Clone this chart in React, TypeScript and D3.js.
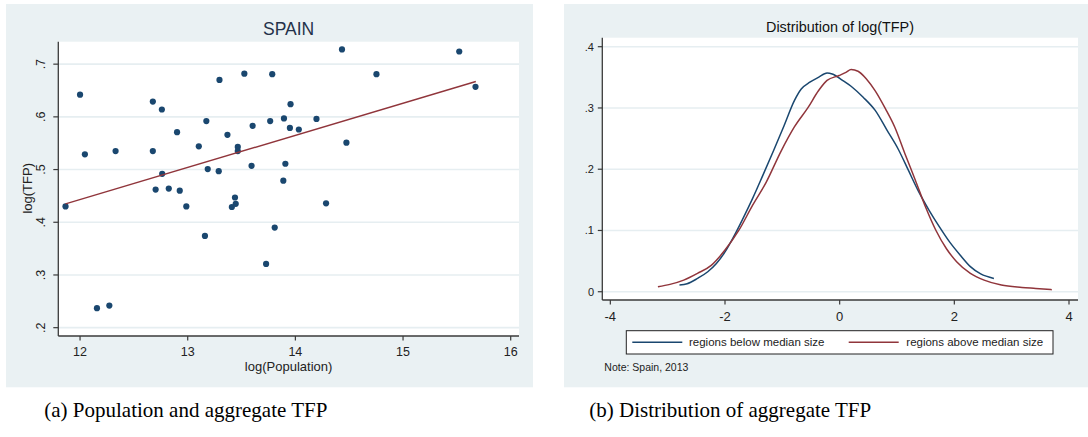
import React from "react";
import * as d3 from "d3";

// ---------- data: panel (a) ----------
const popLog: number[] = [
  11.865, 12.0, 12.045, 12.157, 12.272, 12.33, 12.676, 12.676, 12.76, 12.763,
  12.702, 12.824, 12.901, 12.926, 12.987, 13.103, 13.16, 13.173, 13.186, 13.288,
  13.295, 13.369, 13.41, 13.439, 13.446, 13.465, 13.465, 13.526, 13.593, 13.603,
  13.728, 13.766, 13.785, 13.808, 13.888, 13.894, 13.907, 13.955, 13.949, 14.032,
  14.196, 14.285, 14.433, 14.474, 14.753, 15.522, 15.673,
];
const tfpLog: number[] = [
  0.43, 0.642, 0.529, 0.237, 0.242, 0.535, 0.629, 0.535, 0.614, 0.492,
  0.462, 0.464, 0.571, 0.46, 0.43, 0.544, 0.374, 0.592, 0.501, 0.497,
  0.67, 0.566, 0.429, 0.447, 0.435, 0.543, 0.535, 0.682, 0.507, 0.583,
  0.321, 0.592, 0.681, 0.39, 0.479, 0.597, 0.511, 0.624, 0.579, 0.576,
  0.596, 0.436, 0.728, 0.551, 0.681, 0.724, 0.657,
];
const fitX: number[] = [11.865, 15.676];
const fitY: number[] = [0.435, 0.667];
const aXTicks: number[] = [12, 13, 14, 15, 16];
const aYTicks: number[] = [0.2, 0.3, 0.4, 0.5, 0.6, 0.7];
const aYTickLabels: string[] = [".2", ".3", ".4", ".5", ".6", ".7"];

// ---------- data: panel (b) ----------
const belowX: number[] = [
  -2.794, -2.66, -2.48, -2.3, -2.15, -2.0, -1.85, -1.7, -1.52, -1.34, -1.15, -0.97,
  -0.79, -0.67, -0.52, -0.37, -0.22, -0.13, 0.05, 0.23, 0.41, 0.62, 0.83, 1.02,
  1.2, 1.38, 1.56, 1.74, 1.92, 2.1, 2.28, 2.46, 2.69,
];
const belowY: number[] = [
  0.0109, 0.013, 0.0217, 0.0326, 0.046, 0.065, 0.0896, 0.117, 0.152, 0.19, 0.231, 0.271,
  0.312, 0.331, 0.342, 0.35, 0.357, 0.3555, 0.345, 0.333, 0.3175, 0.296, 0.263, 0.233,
  0.198, 0.163, 0.133, 0.106, 0.081, 0.06, 0.041, 0.029, 0.0217,
];
const aboveX: number[] = [
  -3.17, -2.96, -2.72, -2.48, -2.24, -2.0, -1.76, -1.52, -1.28, -1.03, -0.79, -0.55,
  -0.37, -0.22, -0.01, 0.11, 0.2, 0.32, 0.47, 0.62, 0.8, 0.96, 1.14, 1.32, 1.5,
  1.68, 1.86, 2.04, 2.28, 2.52, 2.82, 3.18, 3.42, 3.7,
];
const aboveY: number[] = [
  0.0081, 0.012, 0.019, 0.03, 0.043, 0.068, 0.1, 0.141, 0.179, 0.228, 0.269, 0.301,
  0.328, 0.345, 0.353, 0.358, 0.3626, 0.36, 0.347, 0.328, 0.2985, 0.269, 0.225, 0.182, 0.138,
  0.1, 0.0706, 0.049, 0.03, 0.019, 0.0109, 0.0071, 0.0054, 0.0033,
];
const bXTicks: number[] = [-4, -2, 0, 2, 4];
const bYTicks: number[] = [0, 0.1, 0.2, 0.3, 0.4];
const bYTickLabels: string[] = ["0", ".1", ".2", ".3", ".4"];
const legendLabels: string[] = ["regions below median size", "regions above median size"];

const NAVY = "#1a476f";
const MAROON = "#90353b";
const BG = "#eaf1f3";
const GRID = "#e6eef1";
const AXIS = "#3a3a3a";
const SANS = "'Liberation Sans', Arial, sans-serif";

export default function App() {
  // panel (a) scales
  const ax = d3.scaleLinear().domain([11.798, 16.077]).range([58.3, 519]);
  const ay = d3.scaleLinear().domain([0.1842, 0.7426]).range([336, 41.7]);
  const fitLine = d3
    .line<number>()
    .x((_, i) => ax(fitX[i]))
    .y((_, i) => ay(fitY[i]));

  // panel (b) scales
  const bx = d3.scaleLinear().domain([-4.14, 4.157]).range([602.3, 1078]);
  const by = d3.scaleLinear().domain([-0.0135, 0.4147]).range([300, 37.7]);
  const curve = (xs: number[], ys: number[]) =>
    d3
      .line<number>()
      .x((_, i) => bx(xs[i]))
      .y((_, i) => by(ys[i]))
      .curve(d3.curveMonotoneX)(xs) as string;

  return (
    <svg
      width={1088}
      height={437}
      style={{ position: "absolute", left: 0, top: 0, background: "#fff" }}
      fontFamily={SANS}
    >
      {/* ================= Panel (a) ================= */}
      <rect x={6} y={4} width={527} height={383.3} fill={BG} />
      <rect x={58.3} y={41.7} width={519 - 58.3} height={336 - 41.7} fill="#fff" />
      {aYTicks.map((t) => (
        <line key={"ag" + t} x1={58.3} x2={519} y1={ay(t)} y2={ay(t)} stroke={GRID} strokeWidth={1.6} />
      ))}
      <line x1={58.3} x2={58.3} y1={41.7} y2={336} stroke={AXIS} strokeWidth={1.3} />
      <line x1={58.3} x2={519} y1={336} y2={336} stroke={AXIS} strokeWidth={1.3} />
      {aYTicks.map((t, i) => (
        <g key={"ayt" + t}>
          <line x1={53.3} x2={58.3} y1={ay(t)} y2={ay(t)} stroke={AXIS} strokeWidth={1.2} />
          <text
            transform={`translate(41.3,${ay(t)}) rotate(-90)`}
            textAnchor="middle"
            dominantBaseline="central"
            fontSize={12.5}
            fill="#222"
          >
            {aYTickLabels[i]}
          </text>
        </g>
      ))}
      {aXTicks.map((t) => (
        <g key={"axt" + t}>
          <line x1={ax(t)} x2={ax(t)} y1={336} y2={340.5} stroke={AXIS} strokeWidth={1.2} />
          <text x={ax(t)} y={352} textAnchor="middle" dominantBaseline="central" fontSize={12.5} fill="#222">
            {t}
          </text>
        </g>
      ))}
      <text x={288.6} y={366} textAnchor="middle" dominantBaseline="central" fontSize={13} fill="#222">
        log(Population)
      </text>
      <text
        transform="translate(27.5,188.3) rotate(-90)"
        textAnchor="middle"
        dominantBaseline="central"
        fontSize={13}
        fill="#222"
      >
        log(TFP)
      </text>
      <text x={288.6} y={29} textAnchor="middle" dominantBaseline="central" fontSize={17.5} fill="#24324a">
        SPAIN
      </text>
      {popLog.map((x, i) => (
        <circle key={"pt" + i} cx={ax(x)} cy={ay(tfpLog[i])} r={3.1} fill={NAVY} />
      ))}
      <path d={fitLine(fitX) as string} fill="none" stroke={MAROON} strokeWidth={1.4} />

      {/* ================= Panel (b) ================= */}
      <rect x={564} y={4} width={524} height={383.3} fill={BG} />
      <rect x={602.3} y={37.7} width={1078 - 602.3} height={300 - 37.7} fill="#fff" />
      {bYTicks.map((t) => (
        <line key={"bg" + t} x1={602.3} x2={1078} y1={by(t)} y2={by(t)} stroke={GRID} strokeWidth={1.6} />
      ))}
      <line x1={602.3} x2={602.3} y1={37.7} y2={300} stroke={AXIS} strokeWidth={1.3} />
      <line x1={602.3} x2={1078} y1={300} y2={300} stroke={AXIS} strokeWidth={1.3} />
      {bYTicks.map((t, i) => (
        <g key={"byt" + t}>
          <line x1={597.8} x2={602.3} y1={by(t)} y2={by(t)} stroke={AXIS} strokeWidth={1.2} />
          <text x={594} y={by(t)} textAnchor="end" dominantBaseline="central" fontSize={11} fill="#222">
            {bYTickLabels[i]}
          </text>
        </g>
      ))}
      {bXTicks.map((t) => (
        <g key={"bxt" + t}>
          <line x1={bx(t)} x2={bx(t)} y1={300} y2={304.5} stroke={AXIS} strokeWidth={1.2} />
          <text x={bx(t)} y={316} textAnchor="middle" dominantBaseline="central" fontSize={13} fill="#222">
            {t}
          </text>
        </g>
      ))}
      <text x={840} y={26.7} textAnchor="middle" dominantBaseline="central" fontSize={14.4} fill="#111">
        Distribution of log(TFP)
      </text>
      <path d={curve(belowX, belowY)} fill="none" stroke={NAVY} strokeWidth={1.5} />
      <path d={curve(aboveX, aboveY)} fill="none" stroke={MAROON} strokeWidth={1.5} />

      {/* legend */}
      <rect x={626.3} y={330.7} width={1053 - 626.3} height={354 - 330.7} fill="#fff" stroke="#222" strokeWidth={1} />
      <line x1={632.3} x2={682.3} y1={342.3} y2={342.3} stroke={NAVY} strokeWidth={1.5} />
      <text x={689} y={342.3} dominantBaseline="central" fontSize={11.5} fill="#222">
        {legendLabels[0]}
      </text>
      <line x1={848.7} x2={898.7} y1={342.3} y2={342.3} stroke={MAROON} strokeWidth={1.5} />
      <text x={906.3} y={342.3} dominantBaseline="central" fontSize={11.5} fill="#222">
        {legendLabels[1]}
      </text>
      <text x={604.3} y={366.7} dominantBaseline="central" fontSize={10.5} fill="#222">
        Note: Spain, 2013
      </text>

      {/* captions */}
      <text x={44.3} y={417} fontFamily="'Liberation Serif', 'Times New Roman', serif" fontSize={21} fill="#000">
        (a) Population and aggregate TFP
      </text>
      <text x={589.3} y={417} fontFamily="'Liberation Serif', 'Times New Roman', serif" fontSize={21} fill="#000">
        (b) Distribution of aggregate TFP
      </text>
    </svg>
  );
}
